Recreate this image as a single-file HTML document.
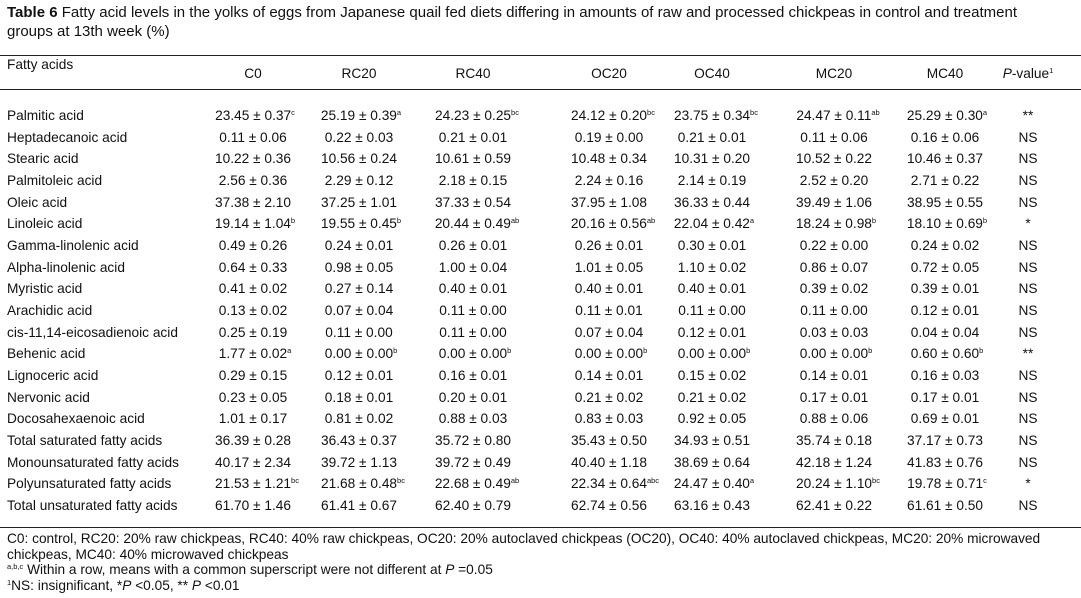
<!DOCTYPE html>
<html><head><meta charset="utf-8"><style>
body{margin:0;width:1081px;height:598px;background:#fff;font-family:"Liberation Sans",Arial,sans-serif;color:#111;position:relative;overflow:hidden}
.t{position:absolute;font-size:13.7px;white-space:nowrap;line-height:15px}
.c{transform:translateX(-50%)}
sup{font-size:7.5px;vertical-align:5px;line-height:0}
.rule{position:absolute;left:0;width:1081px;height:1px;background:#222}
</style></head><body>
<div class="t" style="left:7px;top:3px;font-size:15px;line-height:19px;width:1040px;white-space:normal"><b>Table 6</b> Fatty acid levels in the yolks of eggs from Japanese quail fed diets differing in amounts of raw and processed chickpeas in control and treatment groups at 13th week (%)</div>
<div class="rule" style="top:55px"></div>
<div class="rule" style="top:89px"></div>
<div class="rule" style="top:527px"></div>
<div class="t" style="left:7px;top:57px">Fatty acids</div>
<div id="tbl"></div>
<div class="t" style="left:7px;top:531px;width:1045px;white-space:normal;line-height:15.5px">C0: control, RC20: 20% raw chickpeas, RC40: 40% raw chickpeas, OC20: 20% autoclaved chickpeas (OC20), OC40: 40% autoclaved chickpeas, MC20: 20% microwaved chickpeas, MC40: 40% microwaved chickpeas</div>
<div class="t" style="left:7px;top:562px"><sup>a,b,c</sup> Within a row, means with a common superscript were not different at <i>P</i> =0.05</div>
<div class="t" style="left:7px;top:578px"><sup>1</sup>NS: insignificant, *<i>P</i> &lt;0.05, ** <i>P</i> &lt;0.01</div>
<script>
const headers=["C0","RC20","RC40","OC20","OC40","MC20","MC40"];
const rowNames=["Palmitic acid","Heptadecanoic acid","Stearic acid","Palmitoleic acid","Oleic acid","Linoleic acid","Gamma-linolenic acid","Alpha-linolenic acid","Myristic acid","Arachidic acid","cis-11,14-eicosadienoic acid","Behenic acid","Lignoceric acid","Nervonic acid","Docosahexaenoic acid","Total saturated fatty acids","Monounsaturated fatty acids","Polyunsaturated fatty acids","Total unsaturated fatty acids"];
const cells=[
["23.45 ± 0.37|c","25.19 ± 0.39|a","24.23 ± 0.25|bc","24.12 ± 0.20|bc","23.75 ± 0.34|bc","24.47 ± 0.11|ab","25.29 ± 0.30|a"],
["0.11 ± 0.06","0.22 ± 0.03","0.21 ± 0.01","0.19 ± 0.00","0.21 ± 0.01","0.11 ± 0.06","0.16 ± 0.06"],
["10.22 ± 0.36","10.56 ± 0.24","10.61 ± 0.59","10.48 ± 0.34","10.31 ± 0.20","10.52 ± 0.22","10.46 ± 0.37"],
["2.56 ± 0.36","2.29 ± 0.12","2.18 ± 0.15","2.24 ± 0.16","2.14 ± 0.19","2.52 ± 0.20","2.71 ± 0.22"],
["37.38 ± 2.10","37.25 ± 1.01","37.33 ± 0.54","37.95 ± 1.08","36.33 ± 0.44","39.49 ± 1.06","38.95 ± 0.55"],
["19.14 ± 1.04|b","19.55 ± 0.45|b","20.44 ± 0.49|ab","20.16 ± 0.56|ab","22.04 ± 0.42|a","18.24 ± 0.98|b","18.10 ± 0.69|b"],
["0.49 ± 0.26","0.24 ± 0.01","0.26 ± 0.01","0.26 ± 0.01","0.30 ± 0.01","0.22 ± 0.00","0.24 ± 0.02"],
["0.64 ± 0.33","0.98 ± 0.05","1.00 ± 0.04","1.01 ± 0.05","1.10 ± 0.02","0.86 ± 0.07","0.72 ± 0.05"],
["0.41 ± 0.02","0.27 ± 0.14","0.40 ± 0.01","0.40 ± 0.01","0.40 ± 0.01","0.39 ± 0.02","0.39 ± 0.01"],
["0.13 ± 0.02","0.07 ± 0.04","0.11 ± 0.00","0.11 ± 0.01","0.11 ± 0.00","0.11 ± 0.00","0.12 ± 0.01"],
["0.25 ± 0.19","0.11 ± 0.00","0.11 ± 0.00","0.07 ± 0.04","0.12 ± 0.01","0.03 ± 0.03","0.04 ± 0.04"],
["1.77 ± 0.02|a","0.00 ± 0.00|b","0.00 ± 0.00|b","0.00 ± 0.00|b","0.00 ± 0.00|b","0.00 ± 0.00|b","0.60 ± 0.60|b"],
["0.29 ± 0.15","0.12 ± 0.01","0.16 ± 0.01","0.14 ± 0.01","0.15 ± 0.02","0.14 ± 0.01","0.16 ± 0.03"],
["0.23 ± 0.05","0.18 ± 0.01","0.20 ± 0.01","0.21 ± 0.02","0.21 ± 0.02","0.17 ± 0.01","0.17 ± 0.01"],
["1.01 ± 0.17","0.81 ± 0.02","0.88 ± 0.03","0.83 ± 0.03","0.92 ± 0.05","0.88 ± 0.06","0.69 ± 0.01"],
["36.39 ± 0.28","36.43 ± 0.37","35.72 ± 0.80","35.43 ± 0.50","34.93 ± 0.51","35.74 ± 0.18","37.17 ± 0.73"],
["40.17 ± 2.34","39.72 ± 1.13","39.72 ± 0.49","40.40 ± 1.18","38.69 ± 0.64","42.18 ± 1.24","41.83 ± 0.76"],
["21.53 ± 1.21|bc","21.68 ± 0.48|bc","22.68 ± 0.49|ab","22.34 ± 0.64|abc","24.47 ± 0.40|a","20.24 ± 1.10|bc","19.78 ± 0.71|c"],
["61.70 ± 1.46","61.41 ± 0.67","62.40 ± 0.79","62.74 ± 0.56","63.16 ± 0.43","62.41 ± 0.22","61.61 ± 0.50"]];
const pvals=["**","NS","NS","NS","NS","*","NS","NS","NS","NS","NS","**","NS","NS","NS","NS","NS","*","NS"];
const colX=[253,359,473,609,712,834,945];const pX=1028;
const y0=108,dy=21.67;
const tb=document.getElementById('tbl');
function add(html,x,y,center,name){const d=document.createElement('div');d.className='t'+(center?' c':'');d.style.left=x+'px';d.style.top=y+'px';d.innerHTML=html;


tb.appendChild(d);return d;}
headers.forEach((h,i)=>add(h,colX[i],66,true,'header-'+h.toLowerCase()));
add('<i>P</i>-value<sup>1</sup>',pX,66,true,'header-p-value');
rowNames.forEach((r,i)=>{const y=y0+i*dy;
add(r,7,y,false,'row-label');
cells[i].forEach((c,j)=>{const [v,s]=c.split('|');
const d=add(v,colX[j],y,true,'cell-value');
if(s){const sp=document.createElement('sup');sp.textContent=s;d.appendChild(sp);d.style.transform='translateX(calc(-50% + '+(s.length*2)+'px))';}
});
add(pvals[i],pX,y,true,'cell-p-value');
});
</script>
</body></html>
